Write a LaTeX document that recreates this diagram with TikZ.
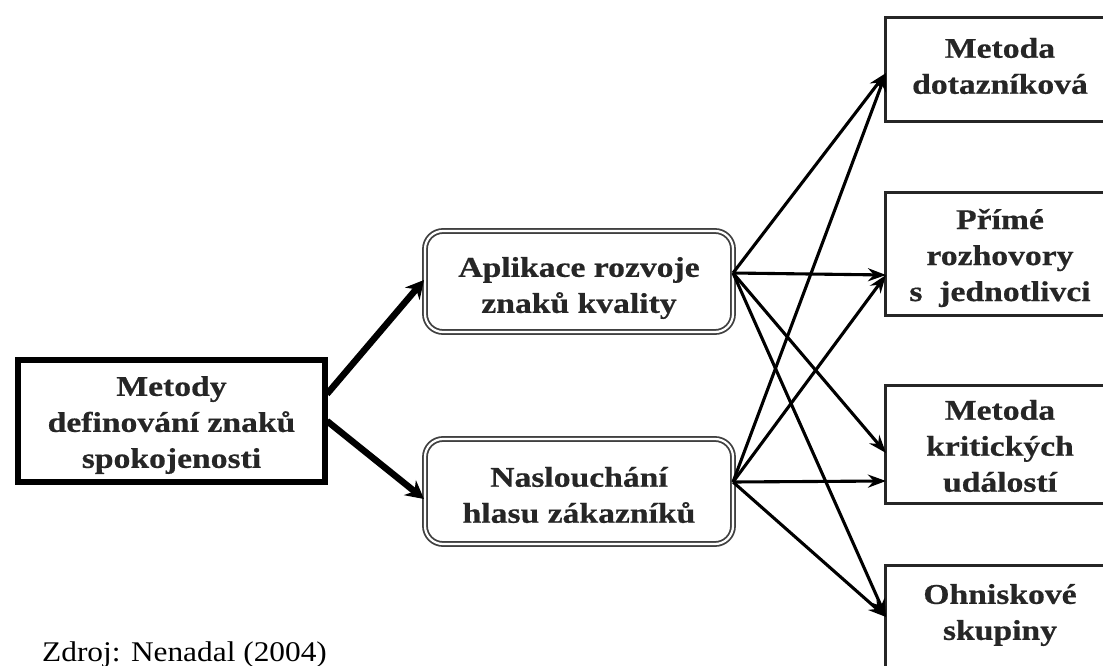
\documentclass[tikz,border=0pt]{standalone}
\usepackage{fontspec}
\setmainfont{Liberation Serif}
\newfontfamily\lblfont{Liberation Serif}[FakeStretch=1.18, FakeBold=0.6]
\newfontfamily\srcfont{Liberation Serif}[FakeStretch=1.1]
\usetikzlibrary{arrows.meta}
\begin{document}
\begin{tikzpicture}[x=1pt,y=-1pt,
  lbl/.style={font=\lblfont\bfseries\fontsize{28.5}{36}\selectfont, align=center, text=black!85},
  leftbox/.style={draw=black, line width=6.5pt, minimum width=307pt, minimum height=122pt, inner sep=0pt},
  midbox/.style={draw=black!75, double=white, double distance=2.2pt, line width=1.8pt, rounded corners=18pt, minimum width=308pt, inner sep=0pt},
  rbox/.style={draw=black!85, line width=3pt, minimum width=230pt, inner sep=0pt},
  thinarr/.style={draw=black, line width=3.1pt, -{Stealth[length=18pt,width=13pt]}},
  thickarr/.style={draw=black, line width=6.5pt, -{Stealth[length=18pt,width=19pt]}},
  srctext/.style={font=\srcfont\fontsize{28.5}{32}\selectfont, anchor=base west, inner sep=0pt}
]
\useasboundingbox (0,0) rectangle (1103,666);
\clip (0,0) rectangle (1103,666);
\fill[white] (0,0) rectangle (1103,666);

% left box
\node[leftbox] (L) at (171.5,421) {};
\node[lbl] (Lt) at (171.5,425) {Metody\\definování znaků\\spokojenosti};

% middle boxes
\node[midbox, minimum height=101pt] (A) at (579,281.5) {};
\node[lbl] (At) at (579,288) {Aplikace rozvoje\\znaků kvality};
\node[midbox, minimum height=105pt] (N) at (579,491.5) {};
\node[lbl] (Nt) at (579,495) {Naslouchání\\hlasu zákazníků};

% right boxes
\node[rbox, minimum height=104pt] (R1) at (1000,70) {};
\node[lbl] (R1t) at (1000,66) {Metoda\\dotazníková};
\node[rbox, minimum height=123pt] (R2) at (1000,253.5) {};
\node[lbl] (R2t) at (1000,258) {Přímé\\rozhovory\\s~~jednotlivci};
\node[rbox, minimum height=118pt] (R3) at (1000,444) {};
\node[lbl] (R3t) at (1000,446) {Metoda\\kritických\\událostí};
\node[rbox, minimum height=140pt] (R4) at (1000,635) {};
\node[lbl] (R4t) at (1000,615) {Ohniskové\\skupiny};

% anchor coordinates
\coordinate (Lo1) at (327,394);
\coordinate (Lo2) at (327,421);
\coordinate (Ai) at (424,280);
\coordinate (Ni) at (424,499);
\coordinate (Ao) at (733,273);
\coordinate (No) at (733,482);
\coordinate (R1i) at (886,73);
\coordinate (R2i) at (886,275);
\coordinate (R3a) at (886,453);
\coordinate (R3b) at (886,481);
\coordinate (R4i) at (886,617);

% thick arrows
\draw[thickarr] (Lo1) -- (Ai);
\draw[thickarr] (Lo2) -- (Ni);

% thin arrows
\draw[thinarr] (Ao) -- (R1i);
\draw[thinarr] (Ao) -- (R2i);
\draw[thinarr] (Ao) -- (R3a);
\draw[thinarr] (Ao) -- (R4i);
\draw[thinarr] (No) -- (R1i);
\draw[thinarr] (No) -- (R2i);
\draw[thinarr] (No) -- (R3b);
\draw[thinarr] (No) -- (R4i);

% source
\node[srctext] (src) at (42,661) {Zdroj: Nenadal (2004)};
\end{tikzpicture}
\end{document}
